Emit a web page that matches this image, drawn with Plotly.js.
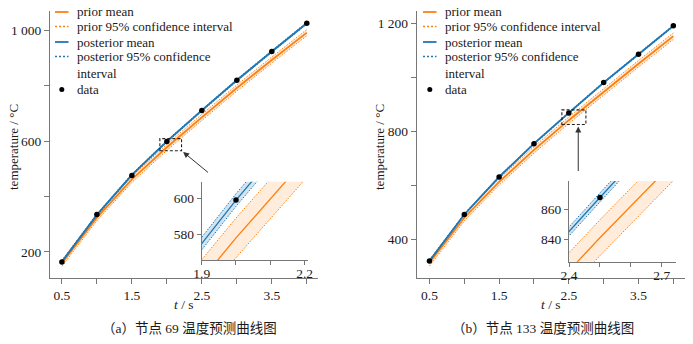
<!DOCTYPE html>
<html>
<head>
<meta charset="utf-8">
<script src="https://cdn.plot.ly/plotly-3.0.1.min.js"></script>
<style>html,body{margin:0;padding:0;background:#fff}</style>
</head>
<body>
<div id="chart" style="width:693px;height:344px"></div>
<script>
// ---- data ----
const timeS = [0.5, 1.0, 1.5, 2.0, 2.5, 3.0, 3.5, 4.0];

// node 69 (panel a)
const priorMeanA = [159, 324, 462, 578, 686, 792, 893, 992];
const priorHalfA = [11, 11, 11, 11, 11, 11, 11, 11];
const postMeanA  = [165, 334, 478, 599, 711, 820, 924, 1026];
const postHalfA  = [3.5, 3.5, 3.5, 3.5, 3.5, 3.5, 3.5, 3.5];
const dataA      = [164, 335, 476, 599, 711, 820, 924, 1026];

// node 133 (panel b)
const priorMeanB = [313, 480, 613, 731, 841, 947, 1050, 1152];
const priorHalfB = [12, 12, 12, 12, 12, 12, 12, 12];
const postMeanB  = [320, 492, 631, 754, 868, 980, 1085, 1190];
const postHalfB  = [3, 3, 3, 3, 3, 3, 3, 3];
const dataB      = [320, 492, 631, 754, 868, 980, 1085, 1190];

// tick labels
const xTickVals = [0.5, 1.0, 1.5, 2.0, 2.5, 3.0, 3.5, 4.0];
const xTickText = ['0.5', '', '1.5', '', '2.5', '', '3.5', ''];
const yTickValsA = [200, 400, 600, 800, 1000];
const yTickTextA = ['200', '', '600', '', '1 000'];
const yTickValsB = [400, 600, 800, 1000, 1200];
const yTickTextB = ['400', '', '800', '', '1 200'];
const insetXValsA = [1.9, 2.0, 2.1, 2.2];
const insetXTextA = ['1.9', '', '', '2.2'];
const insetYValsA = [580, 600];
const insetXValsB = [2.4, 2.5, 2.6, 2.7];
const insetXTextB = ['2.4', '', '', '2.7'];
const insetYValsB = [840, 860];

const legendNames = ['prior mean', 'prior 95% confidence interval', 'posterior mean',
                     'posterior 95% confidence<br>interval', 'data'];
const xTitle = '<i>t</i> / s';
const yTitle = 'temperature / °C';
const captions = ['（a）节点 69 温度预测曲线图', '（b）节点 133 温度预测曲线图'];

// ---- view settings ----
const mainRangeXA = [0.33, 4.16], mainRangeYA = [106, 1070];
const mainRangeXB = [0.317, 4.167], mainRangeYB = [257, 1245];
const insetRangeXA = [1.9, 2.21], insetRangeYA = [565.7, 609.2];
const insetRangeXB = [2.4, 2.745], insetRangeYB = [825, 879];

const ORANGE = '#ff7f0e', BLUE = '#1f77b4';
const FONT = '"Liberation Serif", "Times New Roman", Times, serif';
const CJKFONT = '"Liberation Serif", "Noto Sans CJK SC", serif';
const TXT = '#1a1a1a';
const DOTS = '1.5px,1.5px';
const W = 693, H = 344;
const px = v => v / W, py = v => 1 - v / H;

function add(arr, h, s) { return arr.map((v, i) => v + s * h[i]); }

function panelTraces(pm, ph, qm, qh, dat, xa, ya, lw) {
  const common = {x: timeS, xaxis: xa, yaxis: ya, hoverinfo: 'skip', type: 'scatter', showlegend: false};
  return [
    Object.assign({}, common, {y: add(pm, ph, -1), mode: 'lines', name: legendNames[1],
      line: {color: ORANGE, width: 1, dash: DOTS}}),
    Object.assign({}, common, {y: add(pm, ph, 1), mode: 'lines', name: legendNames[1], fill: 'tonexty',
      fillcolor: 'rgba(255,127,14,0.15)', line: {color: ORANGE, width: 1, dash: DOTS}}),
    Object.assign({}, common, {y: pm, mode: 'lines', name: legendNames[0], line: {color: ORANGE, width: lw}}),
    Object.assign({}, common, {y: add(qm, qh, -1), mode: 'lines', name: legendNames[3],
      line: {color: BLUE, width: 1, dash: DOTS}}),
    Object.assign({}, common, {y: add(qm, qh, 1), mode: 'lines', name: legendNames[3], fill: 'tonexty',
      fillcolor: 'rgba(31,119,180,0.2)', line: {color: BLUE, width: 1, dash: DOTS}}),
    Object.assign({}, common, {y: qm, mode: 'lines', name: legendNames[2], line: {color: BLUE, width: lw}}),
    Object.assign({}, common, {y: dat, mode: 'markers', name: legendNames[4], marker: {color: '#000', size: 5.5}})
  ];
}

const traces = [].concat(
  panelTraces(priorMeanA, priorHalfA, postMeanA, postHalfA, dataA, 'x', 'y', 1.8),
  panelTraces(priorMeanA, priorHalfA, postMeanA, postHalfA, dataA, 'x2', 'y2', 1.3),
  panelTraces(priorMeanB, priorHalfB, postMeanB, postHalfB, dataB, 'x3', 'y3', 1.8),
  panelTraces(priorMeanB, priorHalfB, postMeanB, postHalfB, dataB, 'x4', 'y4', 1.3)
);

const axBase = {showline: true, linecolor: '#777', linewidth: 1, ticks: 'outside', ticklen: 5,
  tickcolor: '#777', showgrid: false, zeroline: false, fixedrange: true,
  tickfont: {family: FONT, size: 13.5, color: TXT}};
function ax(extra) { return Object.assign({}, axBase, extra); }

const shapes = [
  {type: 'rect', xref: 'x', yref: 'y', x0: insetRangeXA[0], x1: insetRangeXA[1], y0: insetRangeYA[0], y1: insetRangeYA[1],
    line: {color: '#222', width: 1.1, dash: '3px,2px'}},
  {type: 'rect', xref: 'x3', yref: 'y3', x0: insetRangeXB[0], x1: insetRangeXB[1], y0: insetRangeYB[0], y1: insetRangeYB[1],
    line: {color: '#222', width: 1.1, dash: '3px,2px'}}
];
const annotations = [
  {xref: 'x', yref: 'y', x: insetRangeXA[1], y: insetRangeYA[0], ax: 28, ay: 23, text: '', showarrow: true,
    arrowhead: 2, arrowsize: 1.2, arrowwidth: 1, arrowcolor: '#333', standoff: 2},
  {xref: 'x3', yref: 'y3', x: 2.635, y: insetRangeYB[0], ax: 0, ay: 48, text: '', showarrow: true,
    arrowhead: 2, arrowsize: 1.2, arrowwidth: 1, arrowcolor: '#333', standoff: 2}
];

// axis titles and captions
[[184, 13, 189], [551, 379, 543]].forEach(([xt, yt, cap], i) => {
  annotations.push({xref: 'paper', yref: 'paper', x: px(xt), y: py(304), xanchor: 'center', yanchor: 'middle',
    text: xTitle, showarrow: false, font: {family: FONT, size: 13.5, color: TXT}});
  annotations.push({xref: 'paper', yref: 'paper', x: px(yt), y: py(147), xanchor: 'center', yanchor: 'middle',
    text: yTitle, textangle: -90, showarrow: false, font: {family: FONT, size: 13, color: TXT}});
  annotations.push({xref: 'paper', yref: 'paper', x: px(cap), y: py(328), xanchor: 'center', yanchor: 'middle',
    text: captions[i], showarrow: false, font: {family: CJKFONT, size: 13.5, color: TXT}});
});

// legend boxes (symbol + text), one per panel
const legendRowsY = [12, 26.5, 42, 56.5, 89.5];
const legendStyles = [
  {color: ORANGE, dash: 'solid', width: 1.8},
  {color: ORANGE, dash: '2px,2px', width: 1.5},
  {color: BLUE, dash: 'solid', width: 1.8},
  {color: BLUE, dash: '2px,2px', width: 1.5},
  null
];
[[55, 75], [423, 443]].forEach(([sx, tx]) => {
  legendNames.forEach((name, i) => {
    const yy = legendRowsY[i];
    if (legendStyles[i]) {
      shapes.push({type: 'line', xref: 'paper', yref: 'paper', x0: px(sx), x1: px(sx + 13.5), y0: py(yy), y1: py(yy),
        line: legendStyles[i]});
    } else {
      shapes.push({type: 'circle', xref: 'paper', yref: 'paper', x0: px(sx + 4.3), x1: px(sx + 9.3),
        y0: py(yy + 2.5), y1: py(yy - 2.5), fillcolor: '#000', line: {width: 0}});
    }
    const multi = name.indexOf('<br>') >= 0;
    annotations.push({xref: 'paper', yref: 'paper', x: px(tx), y: py(multi ? yy + 8 : yy), xanchor: 'left',
      yanchor: 'middle', align: 'left', text: name, showarrow: false, font: {family: FONT, size: 13, color: TXT}});
  });
});

const layout = {
  width: W, height: H, margin: {l: 0, r: 0, t: 0, b: 0},
  paper_bgcolor: '#fff', plot_bgcolor: 'rgba(0,0,0,0)', showlegend: false,
  font: {family: FONT, size: 13, color: TXT},
  xaxis: ax({domain: [px(50), px(318)], range: mainRangeXA, anchor: 'y', tickvals: xTickVals, ticktext: xTickText}),
  yaxis: ax({domain: [py(278), py(11)], range: mainRangeYA, anchor: 'x', tickvals: yTickValsA, ticktext: yTickTextA}),
  xaxis2: ax({domain: [px(201.7), px(308)], range: insetRangeXA, anchor: 'y2', tickvals: insetXValsA, ticktext: insetXTextA,
    ticklen: 4, ticklabelstandoff: -3}),
  yaxis2: ax({domain: [py(260), py(181.7)], range: insetRangeYA, anchor: 'x2', tickvals: insetYValsA, ticklen: 4}),
  xaxis3: ax({domain: [px(416.7), px(685)], range: mainRangeXB, anchor: 'y3', tickvals: xTickVals, ticktext: xTickText}),
  yaxis3: ax({domain: [py(278), py(11)], range: mainRangeYB, anchor: 'x3', tickvals: yTickValsB, ticktext: yTickTextB}),
  xaxis4: ax({domain: [px(569), px(675.7)], range: insetRangeXB, anchor: 'y4', tickvals: insetXValsB, ticktext: insetXTextB,
    ticklen: 4, ticklabelstandoff: -3}),
  yaxis4: ax({domain: [py(261.7), py(181)], range: insetRangeYB, anchor: 'x4', tickvals: insetYValsB, ticklen: 4}),
  shapes: shapes,
  annotations: annotations
};

Plotly.newPlot('chart', traces, layout, {displayModeBar: false, staticPlot: true});
</script>
</body>
</html>
